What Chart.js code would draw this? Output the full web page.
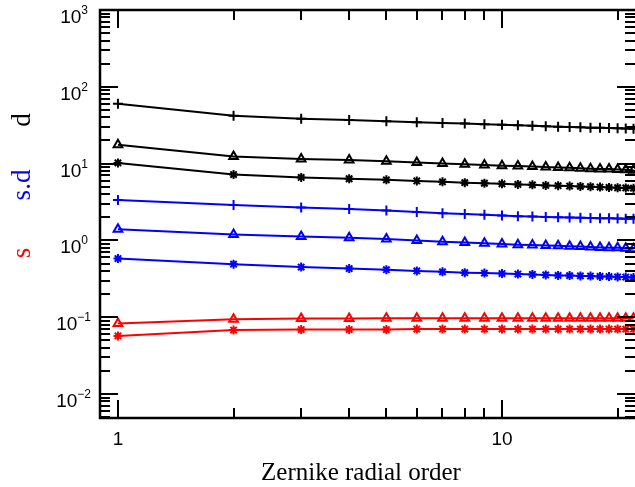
<!DOCTYPE html>
<html>
<head>
<meta charset="utf-8">
<script src="https://cdn.jsdelivr.net/npm/chart.js@4/dist/chart.umd.min.js"></script>
<style>
  html, body { margin: 0; padding: 0; background: #fff; }
  #wrap { width: 635px; height: 487px; }
</style>
</head>
<body>
<div id="wrap"><canvas id="chart" width="635" height="487"></canvas></div>
<script>
// radial order (x)
const orders = [1, 2, 3, 4, 5, 6, 7, 8, 9, 10, 11, 12, 13, 14, 15, 16, 17, 18, 19, 20, 21, 22];

// d (black)
const dPlus = [60, 42, 38.5, 37, 35.5, 34.5, 33.8, 33.2, 32.5, 32, 31.5, 31, 30.6, 30.3, 30, 29.7, 29.4, 29.2, 29, 28.8, 28.6, 28.4];
const dTri  = [17.6, 12.4, 11.5, 11.1, 10.7, 10.3, 10.0, 9.8, 9.6, 9.4, 9.3, 9.2, 9.0, 8.9, 8.8, 8.7, 8.6, 8.5, 8.5, 8.4, 8.3, 8.2];
const dStar = [10.2, 7.2, 6.6, 6.35, 6.15, 5.95, 5.8, 5.65, 5.55, 5.45, 5.35, 5.3, 5.2, 5.15, 5.1, 5.05, 5.0, 4.95, 4.9, 4.85, 4.82, 4.78];

// s.d (blue)
const sdPlus = [3.35, 2.88, 2.68, 2.56, 2.45, 2.35, 2.26, 2.2, 2.15, 2.11, 2.07, 2.04, 2.02, 2.0, 1.99, 1.97, 1.96, 1.95, 1.94, 1.93, 1.92, 1.91];
const sdTri  = [1.40, 1.19, 1.12, 1.08, 1.04, 1.0, 0.96, 0.94, 0.92, 0.9, 0.88, 0.87, 0.86, 0.85, 0.84, 0.83, 0.82, 0.81, 0.8, 0.8, 0.79, 0.78];
const sdStar = [0.58, 0.49, 0.45, 0.43, 0.415, 0.40, 0.39, 0.38, 0.375, 0.37, 0.365, 0.36, 0.355, 0.35, 0.348, 0.345, 0.343, 0.34, 0.338, 0.335, 0.333, 0.33];

// s (red)
const sTri  = [0.083, 0.094, 0.096, 0.096, 0.097, 0.097, 0.097, 0.097, 0.097, 0.097, 0.097, 0.097, 0.097, 0.097, 0.097, 0.097, 0.097, 0.097, 0.097, 0.097, 0.097, 0.097];
const sStar = [0.057, 0.068, 0.069, 0.069, 0.069, 0.07, 0.07, 0.07, 0.07, 0.07, 0.07, 0.07, 0.07, 0.07, 0.07, 0.07, 0.07, 0.07, 0.07, 0.07, 0.07, 0.07];

// tick labels
const xLabels = [1, 10];
const yExponents = [-2, -1, 0, 1, 2, 3];

function toPoints(vals) {
    return vals.map((v, i) => ({ x: orders[i], y: v }));
}

function series(vals, color, style, radius) {
    return {
        data: toPoints(vals),
        borderColor: color,
        borderWidth: 2,
        pointStyle: style,
        pointRadius: radius,
        pointBorderColor: color,
        pointBackgroundColor: 'rgba(0,0,0,0)',
        pointBorderWidth: 2,
        tension: 0
    };
}

const TICK_MAJOR = 18;
const TICK_MINOR = 10;

// draws frame, IDL-style inward ticks on all four sides, tick labels and titles
const axesPlugin = {
    id: 'axesPlugin',
    afterDraw(chart) {
        const ctx = chart.ctx;
        const a = chart.chartArea;
        const xs = chart.scales.x;
        const ys = chart.scales.y;
        ctx.save();
        ctx.strokeStyle = '#000';
        ctx.lineCap = 'butt';

        // frame
        ctx.lineWidth = 2.5;
        ctx.beginPath();
        ctx.moveTo(a.right + 2, a.top);
        ctx.lineTo(a.left, a.top);
        ctx.lineTo(a.left, a.bottom);
        ctx.lineTo(a.right + 2, a.bottom);
        ctx.stroke();

        ctx.lineWidth = 2;
        // x ticks (bottom and top)
        for (let k = 0; k <= 1; k++) {
            for (let m = 1; m <= 9; m++) {
                const v = m * Math.pow(10, k);
                if (v < xs.min || v > xs.max) continue;
                const px = Math.round(xs.getPixelForValue(v));
                const len = m === 1 ? TICK_MAJOR : TICK_MINOR;
                ctx.beginPath();
                ctx.moveTo(px, a.bottom);
                ctx.lineTo(px, a.bottom - len);
                ctx.moveTo(px, a.top);
                ctx.lineTo(px, a.top + len);
                ctx.stroke();
            }
        }
        // y ticks (left and right)
        for (let k = -3; k <= 3; k++) {
            for (let m = 1; m <= 9; m++) {
                const v = m * Math.pow(10, k);
                if (v < ys.min * 0.999 || v > ys.max * 1.001) continue;
                const py = Math.round(ys.getPixelForValue(v));
                const len = m === 1 ? TICK_MAJOR : TICK_MINOR;
                ctx.beginPath();
                ctx.moveTo(a.left, py);
                ctx.lineTo(a.left + len, py);
                ctx.moveTo(a.right, py);
                ctx.lineTo(a.right - len, py);
                ctx.stroke();
            }
        }

        // x tick labels
        ctx.fillStyle = '#000';
        ctx.font = '19px "Liberation Sans", Arial, sans-serif';
        ctx.textAlign = 'center';
        ctx.textBaseline = 'alphabetic';
        xLabels.forEach(v => {
            ctx.fillText(String(v), xs.getPixelForValue(v), a.bottom + 27);
        });

        // y tick labels: 10 with superscript exponent
        yExponents.forEach(e => {
            const py = ys.getPixelForValue(Math.pow(10, e));
            const sup = e < 0 ? '\u2212' + Math.abs(e) : String(e);
            ctx.font = '12px "Liberation Sans", Arial, sans-serif';
            const supW = ctx.measureText(sup).width;
            ctx.font = '19px "Liberation Sans", Arial, sans-serif';
            const baseW = ctx.measureText('10').width;
            const right = e < 0 ? 91 : 88;
            const x0 = right - supW - baseW;
            ctx.textAlign = 'left';
            ctx.fillText('10', x0, py + 13);
            ctx.font = '12px "Liberation Sans", Arial, sans-serif';
            ctx.fillText(sup, x0 + baseW, py + 4);
        });

        // x title
        ctx.font = '25px "Liberation Serif", "Times New Roman", serif';
        ctx.textAlign = 'center';
        ctx.fillText('Zernike radial order', 361, 480);

        // y title: three coloured parts, rotated
        ctx.font = '27px "Liberation Serif", "Times New Roman", serif';
        [['d', '#000000', 120], ['s.d', '#0000ff', 185], ['s', '#ff0000', 253]].forEach(([t, c, cy]) => {
            ctx.save();
            ctx.translate(30, cy);
            ctx.rotate(-Math.PI / 2);
            ctx.fillStyle = c;
            ctx.textAlign = 'center';
            ctx.fillText(t, 0, 0);
            ctx.restore();
        });
        ctx.restore();
    }
};

const black = '#000000', blue = '#0000ff', red = '#ff0000';

new Chart(document.getElementById('chart'), {
    type: 'line',
    data: {
        datasets: [
            series(dPlus, black, 'cross', 5),
            series(dTri, black, 'triangle', 5),
            series(dStar, black, 'star', 4.5),
            series(sdPlus, blue, 'cross', 5),
            series(sdTri, blue, 'triangle', 5),
            series(sdStar, blue, 'star', 4.5),
            series(sTri, red, 'triangle', 5),
            series(sStar, red, 'star', 4.5)
        ]
    },
    options: {
        responsive: false,
        animation: false,
        layout: { padding: { left: 100, top: 10, right: 0, bottom: 69 }, autoPadding: false },
        plugins: { legend: { display: false }, tooltip: { enabled: false } },
        scales: {
            x: { type: 'logarithmic', display: false, min: 0.898, max: 22.2 },
            y: { type: 'logarithmic', display: false, min: 0.00487, max: 1000 }
        }
    },
    plugins: [axesPlugin]
});
</script>
</body>
</html>
